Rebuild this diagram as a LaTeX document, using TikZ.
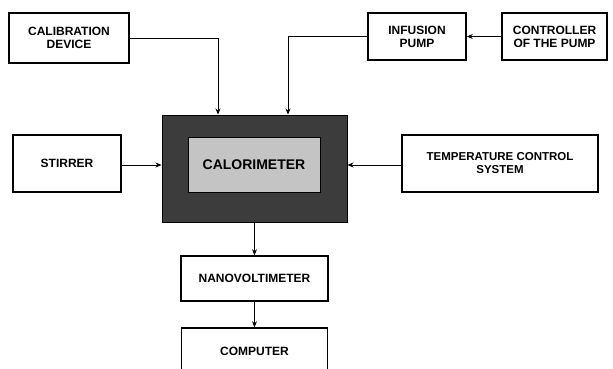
\documentclass[tikz,border=0pt]{standalone}
\usepackage{fontspec}
\setmainfont{Liberation Sans}
\usetikzlibrary{arrows.meta}
\definecolor{darkcal}{HTML}{3C3C3C}
\definecolor{lightcal}{HTML}{C4C4C4}
\tikzset{
  blk/.style={draw=black, line width=1.5pt, fill=white, align=center, inner sep=0pt,
    font=\fontsize{12}{13}\selectfont\bfseries},
  arr/.style={draw=black, line width=0.8pt, -{Stealth[length=6pt,width=5pt]}},
}
\begin{document}
\begin{tikzpicture}[x=1pt,y=-1pt]
\useasboundingbox[fill=white] (0,0) rectangle (613,369);
\node[blk, minimum width=120pt, minimum height=50pt] (calib) at (69,38) {CALIBRATION\\DEVICE};
\node[blk, minimum width=98pt, minimum height=47pt] (inf) at (417,36.5) {INFUSION\\PUMP};
\node[blk, minimum width=105pt, minimum height=47pt] (ctrl) at (554.5,36.5) {CONTROLLER\\OF THE PUMP};
\node[blk, minimum width=108pt, minimum height=57pt] (stir) at (67,163.5) {STIRRER};
\node[blk, minimum width=196pt, minimum height=57pt, font=\fontsize{11.5}{13}\selectfont\bfseries] (temp) at (500,163.5) {TEMPERATURE CONTROL\\SYSTEM};
\node[draw=black, line width=1pt, fill=darkcal, minimum width=185pt, minimum height=107pt, inner sep=0pt] (calo) at (254.5,168.5) {};
\node[draw=black, line width=1pt, fill=lightcal, minimum width=132pt, minimum height=55pt, inner sep=0pt,
  font=\fontsize{14}{16}\selectfont\bfseries] (calin) at (254,164.5) {CALORIMETER};
\node[blk, minimum width=147pt, minimum height=45pt] (nano) at (254.5,278.5) {NANOVOLTIMETER};
\node[blk, minimum width=146pt, minimum height=47pt] (comp) at (254.5,351.5) {COMPUTER};
\draw[arr] (calib.east) -| ([xshift=-36.5pt]calo.north);
\draw[arr] (inf.west) -| ([xshift=33.5pt]calo.north);
\draw[arr] (ctrl.west) -- (inf.east);
\draw[arr] ([yshift=-1.5pt]stir.east) -- ([yshift=-1.5pt]stir.east -| calo.west);
\draw[arr] ([yshift=-1.5pt]temp.west) -- ([yshift=-1.5pt]temp.west -| calo.east);
\draw[arr] (calo.south) -- (nano.north);
\draw[arr] (nano.south) -- (comp.north);
\end{tikzpicture}
\end{document}
